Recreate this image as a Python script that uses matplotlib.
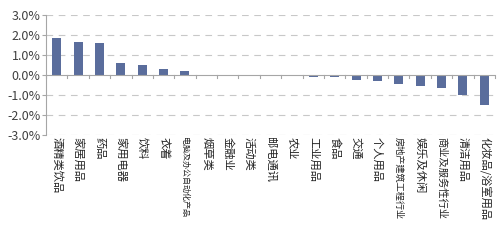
import matplotlib
matplotlib.use("Agg")
import matplotlib.pyplot as plt
from matplotlib.ticker import FuncFormatter
import numpy as np

plt.rcParams['font.family'] = ['Noto Sans CJK SC', 'DejaVu Sans']

categories = ["酒精类饮品", "家居用品", "药品", "家用电器", "饮料", "衣着",
              "电脑及办公自动化产品", "烟草类", "金融业", "活动类", "邮电通讯",
              "农业", "工业用品", "食品", "交通", "个人用品", "房地产建筑工程行业",
              "娱乐及休闲", "商业及服务性行业", "清洁用品", "化妆品/浴室用品"]
values = [1.87, 1.63, 1.61, 0.59, 0.51, 0.31, 0.21, 0.0, 0.0, 0.0, -0.06,
          -0.07, -0.10, -0.12, -0.25, -0.28, -0.45, -0.53, -0.65, -1.0, -1.5]
yticks = [-3, -2, -1, 0, 1, 2, 3]

fig = plt.figure(figsize=(5, 2.4), dpi=100)
ax = fig.add_axes([0.092, 0.4375, 0.898, 0.5])

x = np.arange(len(categories))
ax.bar(x, values, width=0.42, color="#5a6d9c", zorder=3)

ax.set_ylim(-3, 3)
ax.set_xlim(-0.5, len(categories) - 0.5)
ax.set_yticks(yticks)
ax.yaxis.set_major_formatter(FuncFormatter(lambda v, p: f"{v:.1f}%".replace("\u2212", "-")))
for t in yticks:
    if t != 0:
        ax.axhline(t, color="#c8c8c8", lw=0.8, ls=(0, (6, 5)), zorder=1)
ax.axhline(0, color="#a6a6a6", lw=0.8, zorder=4)

for s in ["top", "right", "bottom"]:
    ax.spines[s].set_visible(False)
ax.spines["left"].set_color("#a6a6a6")
ax.spines["left"].set_linewidth(0.8)

ax.tick_params(axis="y", length=3, color="#a6a6a6", labelsize=9, labelcolor="#404040", pad=1)
ax.set_xticks(x)
ax.set_xticklabels([])
ax.tick_params(axis="x", length=0)

for b in np.arange(len(categories) + 1) - 0.5:
    ax.plot([b, b], [0, -0.15], color="#a6a6a6", lw=0.8, zorder=4, clip_on=False)

def label_size(lab):
    n = len(lab)
    if n >= 10:
        return 5.8
    if n == 9:
        return 6.6
    if n == 8 and "/" not in lab:
        return 7.4
    return 8.1

for xi, lab in zip(x, categories):
    ax.text(xi, -3.12, lab, rotation=-90, ha="center", va="top",
            fontsize=label_size(lab), color="#222222")

fig.savefig("out.png", dpi=100)
